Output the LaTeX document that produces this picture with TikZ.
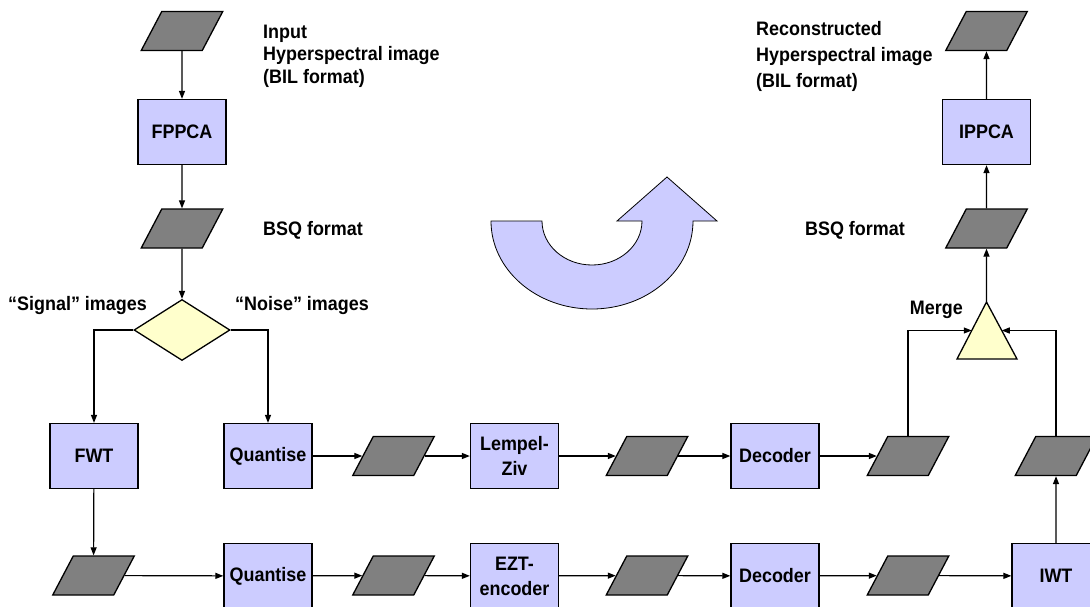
\documentclass[tikz,border=0pt]{standalone}
\usepackage{fontspec}
\setmainfont[FakeStretch=0.92]{Liberation Sans}
\definecolor{boxblue}{RGB}{204,204,255}
\definecolor{datagray}{RGB}{128,128,128}
\definecolor{choiceyellow}{RGB}{255,255,204}
\usetikzlibrary{shapes.geometric, arrows.meta, positioning, calc}

\tikzset{
  procbox/.style={draw, line width=1.3pt, fill=boxblue, minimum width=88pt, minimum height=65pt, inner sep=0pt, align=center},
  databox/.style={draw, line width=1.3pt, fill=datagray, minimum width=61pt, minimum height=39pt, inner sep=0pt, xslant=0.526},
  choice/.style={draw, line width=1.3pt, fill=choiceyellow, diamond, minimum width=96pt, minimum height=61pt, inner sep=0pt},
  lbl/.style={inner sep=0pt, align=left},
  flow/.style={-{Triangle[length=8pt,width=6pt]}, line width=1.2pt}
}

\begin{document}
\begin{tikzpicture}[x=1pt, y=-1pt, font=\bfseries\fontsize{19.5}{25}\selectfont]
  \useasboundingbox (0,0) rectangle (1090,606);

  % forward transform
  \node[databox] (in) at (182,31) {};
  \node[procbox] (fppca) at (182,132) {FPPCA};
  \node[databox] (bsqa) at (182,228.5) {};
  \node[choice] (split) at (182,330) {};

  \node[lbl, anchor=west, font=\bfseries\fontsize{19.5}{22.5}\selectfont] (inlbl) at (263,56) {Input\\Hyperspectral image\\(BIL format)};
  \node[lbl, anchor=west] (bsqalbl) at (263,230) {BSQ format};
  \node[lbl, anchor=east] (siglbl) at (147,305) {“Signal” images};
  \node[lbl, anchor=west] (noilbl) at (235,305) {“Noise” images};

  % noise branch
  \node[procbox] (qn) at (268,456) {Quantise};
  \node[databox] (pn1) at (393.5,456) {};
  \node[procbox] (lz) at (514.5,456) {Lempel-\\Ziv};
  \node[databox] (pn2) at (647,456) {};
  \node[procbox] (decn) at (775,456) {Decoder};
  \node[databox] (pn3) at (908,456) {};

  % signal branch
  \node[procbox] (fwt) at (94,456) {FWT};
  \node[databox] (ps1) at (93.5,575.5) {};
  \node[procbox] (qs) at (268,576) {Quantise};
  \node[databox] (ps2) at (393.5,575.5) {};
  \node[procbox] (ezt) at (514.5,576) {EZT-\\encoder};
  \node[databox] (ps3) at (647,575.5) {};
  \node[procbox] (decs) at (775,576) {Decoder};
  \node[databox] (ps4) at (908,575.5) {};
  \node[procbox] (iwt) at (1056,576) {IWT};
  \node[databox] (ps5) at (1056,456) {};

  % inverse transform
  \draw[line width=1.3pt, fill=choiceyellow] (957,359) coordinate (mbl) -- (986.5,302) coordinate (mtop) -- (1017,359) coordinate (mbr) -- cycle;
  \coordinate (mleft) at ($(mbl)!0.5!(mtop)$);
  \coordinate (mright) at ($(mbr)!0.5!(mtop)$);
  \node[databox] (bsqb) at (986.5,228.5) {};
  \node[procbox] (ippca) at (986.5,132) {IPPCA};
  \node[databox] (out) at (986.5,31) {};

  \node[lbl, anchor=east] (mergelbl) at (963,310) {Merge};
  \node[lbl, anchor=east] (bsqblbl) at (905,230) {BSQ format};
  \node[lbl, anchor=west, font=\bfseries\fontsize{19.5}{26}\selectfont] (outlbl) at (756,56) {Reconstructed\\Hyperspectral image\\(BIL format)};

  \draw[flow] (in) -- (fppca);
  \draw[flow] (fppca) -- (bsqa);
  \draw[flow] (bsqa) -- (split);
  \draw[flow] (split.west) -| (fwt);
  \draw[flow] (split.east) -| (qn);

  \draw[flow] (qn) -- (pn1);
  \draw[flow] (pn1) -- (lz);
  \draw[flow] (lz) -- (pn2);
  \draw[flow] (pn2) -- (decn);
  \draw[flow] (decn) -- (pn3);

  \draw[flow] (fwt) -- (ps1);
  \draw[flow] (ps1) -- (qs);
  \draw[flow] (qs) -- (ps2);
  \draw[flow] (ps2) -- (ezt);
  \draw[flow] (ezt) -- (ps3);
  \draw[flow] (ps3) -- (decs);
  \draw[flow] (decs) -- (ps4);
  \draw[flow] (ps4) -- (iwt);
  \draw[flow] (iwt) -- (ps5);

  \draw[flow] (pn3) |- (mleft);
  \draw[flow] (ps5) |- (mright);
  \draw[flow] (mtop) -- (bsqb);
  \draw[flow] (bsqb) -- (ippca);
  \draw[flow] (ippca) -- (out);

  % big turning arrow
  \draw[fill=boxblue, line width=0.8pt] (491,221) arc[start angle=180, end angle=360, x radius=101pt, y radius=88pt]
    -- (717,221) -- (667,177) -- (617,221) -- (642,221)
    arc[start angle=0, end angle=-180, x radius=50pt, y radius=44pt] -- cycle;
\end{tikzpicture}
\end{document}
